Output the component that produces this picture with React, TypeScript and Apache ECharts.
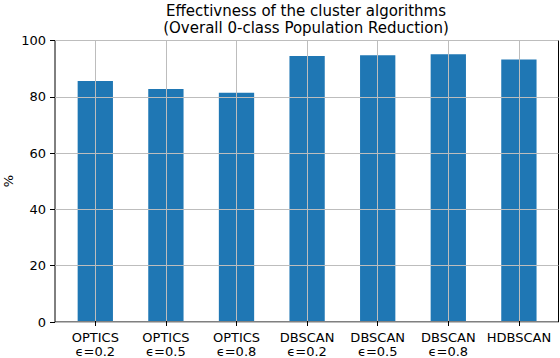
import React, { useEffect, useRef } from "react";
import * as echarts from "echarts";

const categories = [
  "OPTICS\nϵ=0.2",
  "OPTICS\nϵ=0.5",
  "OPTICS\nϵ=0.8",
  "DBSCAN\nϵ=0.2",
  "DBSCAN\nϵ=0.5",
  "DBSCAN\nϵ=0.8",
  "HDBSCAN",
];
const values = [85.6, 82.7, 81.4, 94.5, 94.7, 95.1, 93.2];
const yTicks = [0, 20, 40, 60, 80, 100];
const yAxisTitle = "%";

const FONT = "DejaVu Sans";
const GRID_COLOR = "#bdbdbd";

export default function App() {
  const ref = useRef<HTMLDivElement>(null);
  useEffect(() => {
    if (!ref.current) return;
    document.body.style.margin = "0";
    const chart = echarts.init(ref.current, undefined, { renderer: "svg" });
    chart.setOption({
      animation: false,
      backgroundColor: "#ffffff",
      title: {
        text: "Effectivness of the cluster algorithms\n(Overall 0-class Population Reduction)",
        left: 306,
        top: 2,
        padding: 0,
        textAlign: "center",
        textStyle: {
          fontFamily: FONT,
          fontSize: 15,
          fontWeight: "normal",
          color: "#000",
          lineHeight: 17,
        },
      },
      graphic: [
        {
          type: "text",
          x: 8,
          y: 181,
          rotation: Math.PI / 2,
          style: {
            text: yAxisTitle,
            fontFamily: FONT,
            fontSize: 13,
            fill: "#000",
            align: "center",
            verticalAlign: "middle",
          },
        },
      ],
      grid: [
        {
          left: 55,
          right: 1.5,
          top: 40.5,
          bottom: 36,
          show: true,
          borderColor: "#000",
          borderWidth: 1,
          backgroundColor: "transparent",
        },
        {
          left: 60,
          right: 5.8,
          top: 40.5,
          bottom: 36,
        },
      ],
      xAxis: [
        {
          gridIndex: 0,
          type: "value",
          min: 0,
          max: 1,
          show: false,
        },
        {
          gridIndex: 1,
          type: "category",
          data: categories,
          z: 10,
          axisLine: { show: false },
          axisTick: {
            show: true,
            alignWithLabel: true,
            interval: 0,
            length: 5,
            lineStyle: { color: "#000" },
          },
          splitLine: {
            show: true,
            alignWithLabel: true,
            interval: 0,
            lineStyle: { color: GRID_COLOR, width: 1 },
          },
          axisLabel: {
            interval: 0,
            margin: 9,
            fontFamily: FONT,
            fontSize: 13,
            color: "#000",
            lineHeight: 14,
          },
        },
      ],
      yAxis: [
        {
          gridIndex: 0,
          type: "value",
          min: 0,
          max: 100,
          interval: 20,
          z: 10,
          axisLine: { show: false },
          axisTick: { show: true, length: 5, lineStyle: { color: "#000" } },
          splitLine: { show: true, lineStyle: { color: GRID_COLOR, width: 1 } },
          axisLabel: {
            margin: 9,
            fontFamily: FONT,
            fontSize: 13,
            color: "#000",
            formatter: (v: number) => (yTicks.includes(v) ? String(v) : ""),
          },
        },
        {
          gridIndex: 1,
          type: "value",
          min: 0,
          max: 100,
          show: false,
        },
      ],
      series: [
        {
          type: "bar",
          z: 1,
          xAxisIndex: 1,
          yAxisIndex: 1,
          data: values,
          barWidth: "50%",
          itemStyle: { color: "#1f77b4" },
        },
      ],
    });
    return () => chart.dispose();
  }, []);
  return <div ref={ref} style={{ width: 560, height: 358 }} />;
}
